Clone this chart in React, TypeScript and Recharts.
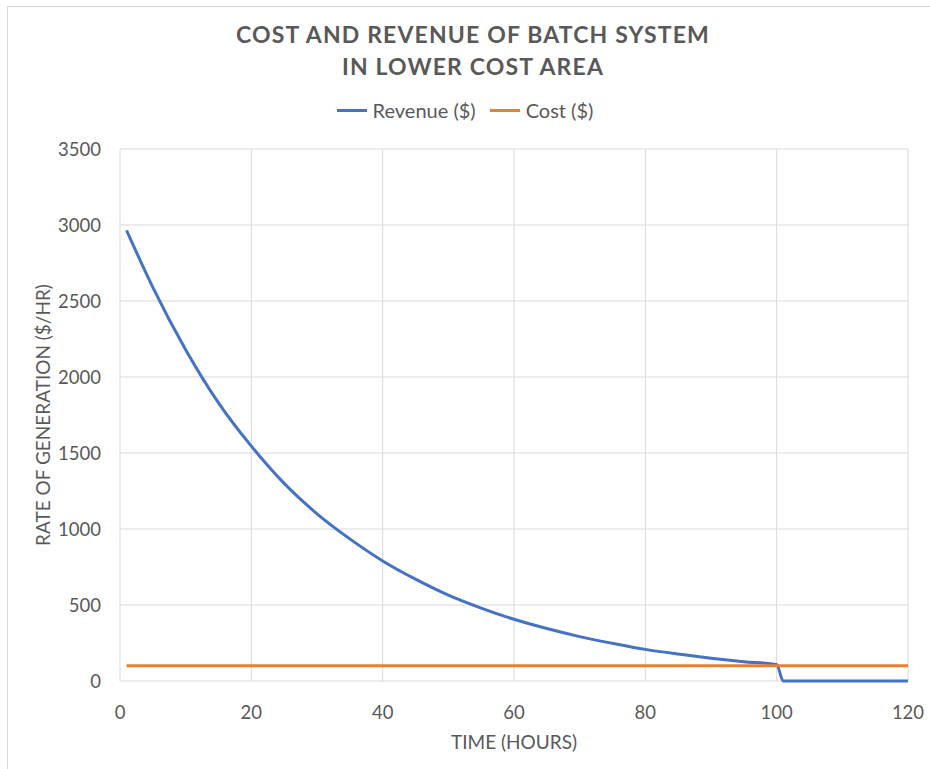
import { LineChart, Line, XAxis, YAxis, CartesianGrid, Legend } from 'recharts'

// hours since batch start
const HOURS = [1, 5, 10, 15, 20, 25, 30, 35, 40, 45, 50, 55, 60, 65, 70, 75, 80, 85, 90, 95, 100, 101, 110, 120]

// revenue rate ($/hr), drops to zero once the batch is stopped
const REVENUE = [2965, 2590, 2180, 1830, 1545, 1300, 1100, 935, 790, 670, 565, 480, 406, 345, 292, 248, 208, 177, 150, 127, 108, 0, 0, 0]

// operating cost rate ($/hr)
const COST = [100, 100, 100, 100, 100, 100, 100, 100, 100, 100, 100, 100, 100, 100, 100, 100, 100, 100, 100, 100, 100, 100, 100, 100]

const X_TICKS = [0, 20, 40, 60, 80, 100, 120]
const Y_TICKS = [0, 500, 1000, 1500, 2000, 2500, 3000, 3500]

const SERIES_ORDER = ['Revenue ($)', 'Cost ($)']

const TEXT = '#595959'
const GRID = '#d9d9d9'
const FONT = 'Lato, "Open Sans", sans-serif'

const data = HOURS.map((hour, i) => ({
  hour,
  revenue: REVENUE[i],
  cost: COST[i],
}))

function LegendContent({ payload }: any) {
  const items = [...(payload || [])].sort(
    (a: any, b: any) => SERIES_ORDER.indexOf(a.value) - SERIES_ORDER.indexOf(b.value)
  )
  return (
    <div style={{ display: 'flex', justifyContent: 'center', gap: 14, fontFamily: FONT, fontSize: 20, color: TEXT }}>
      {items.map((item: any) => (
        <div key={item.value} style={{ display: 'flex', alignItems: 'center' }}>
          <span style={{ display: 'inline-block', width: 30, height: 3, background: item.color, marginRight: 6 }} />
          <span>{item.value}</span>
        </div>
      ))}
    </div>
  )
}

export default function App() {
  return (
    <div
      style={{
        position: 'fixed',
        top: 0,
        left: 0,
        width: 930,
        height: 769,
        background: '#fff',
        overflow: 'hidden',
        fontFamily: FONT,
      }}
    >
      <div
        style={{
          position: 'absolute',
          left: 7,
          top: 6,
          width: 1000,
          height: 1000,
          borderLeft: `1px solid ${GRID}`,
          borderTop: `1px solid ${GRID}`,
        }}
      />
      <div
        style={{
          position: 'absolute',
          top: 18,
          left: 0,
          width: 946,
          textAlign: 'center',
          fontSize: 23,
          fontWeight: 700,
          letterSpacing: 1.15,
          lineHeight: '32px',
          color: TEXT,
        }}
      >
        COST AND REVENUE OF BATCH SYSTEM
        <br />
        IN LOWER COST AREA
      </div>

      <LineChart width={930} height={769} data={data} margin={{ top: 149, right: 22, left: 60, bottom: 48 }}>
        <CartesianGrid stroke={GRID} strokeWidth={1} />
        <XAxis
          dataKey="hour"
          type="number"
          domain={[0, 120]}
          ticks={X_TICKS}
          axisLine={false}
          tickLine={false}
          tickSize={0}
          tickMargin={25}
          height={40}
          tick={{ fill: TEXT, fontSize: 18.5, fontFamily: FONT }}
        />
        <YAxis
          type="number"
          domain={[0, 3500]}
          ticks={Y_TICKS}
          axisLine={false}
          tickLine={false}
          tickSize={0}
          tickMargin={19}
          width={60}
          tick={{ fill: TEXT, fontSize: 18.5, fontFamily: FONT }}
        />
        <Legend
          verticalAlign="middle"
          layout="horizontal"
          wrapperStyle={{ top: 98, left: 0, width: 930 }}
          content={<LegendContent />}
        />
        <Line
          name="Revenue ($)"
          dataKey="revenue"
          type="monotone"
          stroke="#4472C4"
          strokeWidth={3}
          dot={false}
          isAnimationActive={false}
        />
        <Line
          name="Cost ($)"
          dataKey="cost"
          type="linear"
          stroke="#ED7D31"
          strokeWidth={3}
          dot={false}
          isAnimationActive={false}
        />
      </LineChart>

      <div
        style={{
          position: 'absolute',
          left: 514,
          top: 741,
          transform: 'translate(-50%, -50%)',
          fontSize: 19,
          color: TEXT,
          whiteSpace: 'nowrap',
        }}
      >
        TIME (HOURS)
      </div>
      <div
        style={{
          position: 'absolute',
          left: 42,
          top: 415,
          transform: 'translate(-50%, -50%) rotate(-90deg)',
          fontSize: 19,
          color: TEXT,
          whiteSpace: 'nowrap',
        }}
      >
        RATE OF GENERATION ($/HR)
      </div>
    </div>
  )
}
